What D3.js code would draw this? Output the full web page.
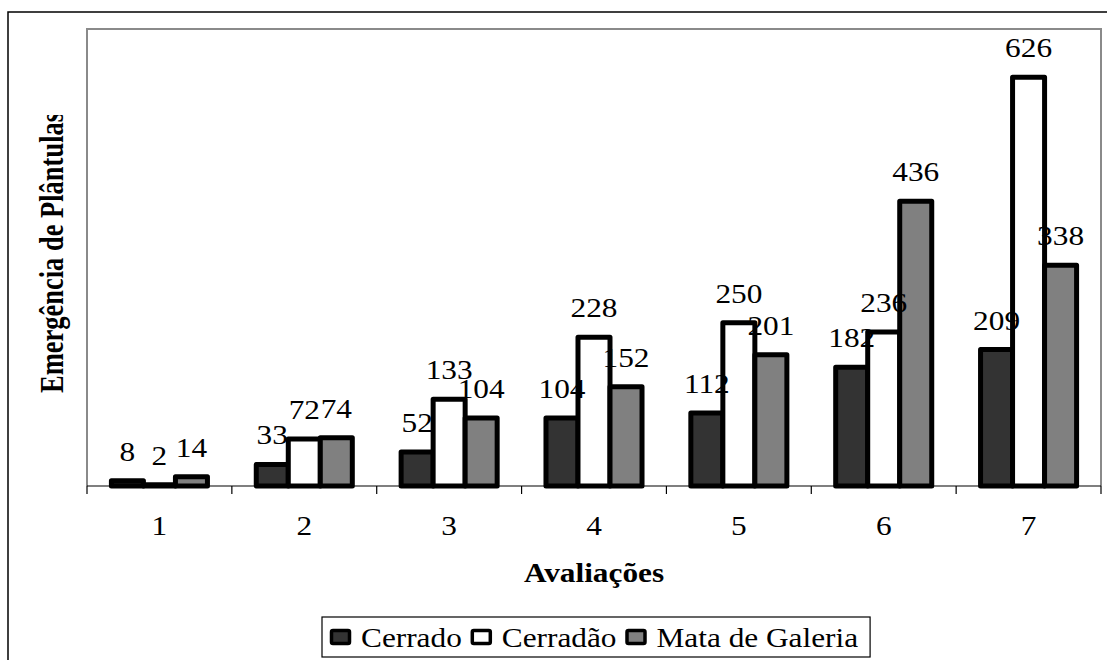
<!DOCTYPE html>
<html>
<head>
<meta charset="utf-8">
<script src="https://cdn.jsdelivr.net/npm/d3@7"></script>
<style>
  html, body { margin: 0; padding: 0; background: #fff; }
  svg { display: block; }
  text { font-family: "Liberation Serif", "Times New Roman", serif; fill: #000; }
</style>
</head>
<body>
<svg id="chart" width="1107" height="660"></svg>
<script>
// Seedling emergence per evaluation, three vegetation types
const categories = ["1", "2", "3", "4", "5", "6", "7"];
const seriesNames = ["Cerrado", "Cerradão", "Mata de Galeria"];
const cerrado = [8, 33, 52, 104, 112, 182, 209];
const cerradao = [2, 72, 133, 228, 250, 236, 626];
const mataDeGaleria = [14, 74, 104, 152, 201, 436, 338];
const seriesColors = ["#333333", "#ffffff", "#808080"];
const yMax = 700;

const seriesValues = [cerrado, cerradao, mataDeGaleria];
const svg = d3.select("#chart");
const stretch = 1.16; // glyphs are drawn a little wider than tall
const fontSize = 27;

const plot = { left: 87, right: 1101, top: 29, bottom: 486 };

// outer chart frame
svg.append("rect")
  .attr("x", 8).attr("y", 12).attr("width", 1120).attr("height", 680)
  .attr("fill", "none").attr("stroke", "#000").attr("stroke-width", 1.5);

// plot area frame (left, top, right)
svg.append("path")
  .attr("d", `M${plot.left},${plot.bottom}V${plot.top}H${plot.right}V${plot.bottom}`)
  .attr("fill", "none").attr("stroke", "#8a8a8a").attr("stroke-width", 2);

const x0 = d3.scaleBand().domain(categories)
  .range([plot.left, plot.right]).paddingInner(0.337).paddingOuter(0.1685);
const x1 = d3.scaleBand().domain(seriesNames).range([0, x0.bandwidth()]).padding(0);
const y = d3.scaleLinear().domain([0, yMax]).range([plot.bottom, plot.top]);

const rows = categories.map((c, i) => ({
  cat: c,
  vals: seriesNames.map((s, j) => ({ s, j, v: seriesValues[j][i] }))
}));

// bars
const groups = svg.append("g").selectAll("g").data(rows).join("g")
  .attr("transform", d => `translate(${x0(d.cat)},0)`);
groups.selectAll("rect").data(d => d.vals).join("rect")
  .attr("x", d => x1(d.s))
  .attr("y", d => y(d.v))
  .attr("width", x1.bandwidth())
  .attr("height", d => y(0) - y(d.v))
  .attr("fill", d => seriesColors[d.j])
  .attr("stroke", "#000").attr("stroke-width", 5)
  .attr("stroke-linejoin", "round");

// value labels
groups.selectAll("text").data(d => d.vals).join("text")
  .attr("transform", d => `translate(${x1(d.s) + x1.bandwidth() / 2},${y(d.v) - 20}) scale(${stretch},1)`)
  .attr("text-anchor", "middle")
  .attr("font-size", fontSize)
  .text(d => d.v);

// x axis with ticks at category boundaries
svg.append("line")
  .attr("x1", plot.left).attr("x2", plot.right)
  .attr("y1", plot.bottom).attr("y2", plot.bottom)
  .attr("stroke", "#000").attr("stroke-width", 1.2);
const step = x0.step();
const bounds = d3.range(categories.length + 1).map(i => plot.left + i * step);
svg.append("g").selectAll("line").data(bounds).join("line")
  .attr("x1", d => d).attr("x2", d => d)
  .attr("y1", plot.bottom).attr("y2", plot.bottom + 8)
  .attr("stroke", "#000").attr("stroke-width", 1.2);
svg.append("g").selectAll("text").data(categories).join("text")
  .attr("transform", d => `translate(${x0(d) + x0.bandwidth() / 2},535) scale(${stretch},1)`)
  .attr("text-anchor", "middle")
  .attr("font-size", fontSize)
  .text(d => d);

// axis titles
svg.append("text")
  .attr("transform", `translate(${(plot.left + plot.right) / 2},582) scale(${stretch},1)`)
  .attr("text-anchor", "middle")
  .attr("font-size", fontSize).attr("font-weight", "bold")
  .text("Avaliações");

svg.append("clipPath").attr("id", "ytitle-clip")
  .append("rect").attr("x", 0).attr("y", 115).attr("width", 86).attr("height", 400);
svg.append("g").attr("clip-path", "url(#ytitle-clip)")
  .append("text")
  .attr("transform", `translate(63,393) scale(1.3,1) rotate(-90)`)
  .attr("text-anchor", "start")
  .attr("font-size", 26.5).attr("font-weight", "bold")
  .text("Emergência de Plântulas");

// legend
const legend = svg.append("g");
const legendBox = legend.append("rect")
  .attr("x", 322).attr("y", 617).attr("width", 543).attr("height", 40)
  .attr("fill", "#fff").attr("stroke", "#000").attr("stroke-width", 1.2);
let lx = 330;
let textEnd = lx;
seriesNames.forEach((name, j) => {
  legend.append("rect")
    .attr("x", lx + 1.5).attr("y", 630.5).attr("width", 18).attr("height", 13)
    .attr("rx", 1.5)
    .attr("fill", seriesColors[j]).attr("stroke", "#000").attr("stroke-width", 3.5);
  const t = legend.append("text")
    .attr("transform", `translate(${lx + 31},647) scale(${stretch},1)`)
    .attr("font-size", fontSize)
    .text(name);
  textEnd = lx + 31 + t.node().getComputedTextLength() * stretch;
  lx = textEnd + 9;
});
legendBox.attr("width", textEnd + 12 - 322);
</script>
</body>
</html>
